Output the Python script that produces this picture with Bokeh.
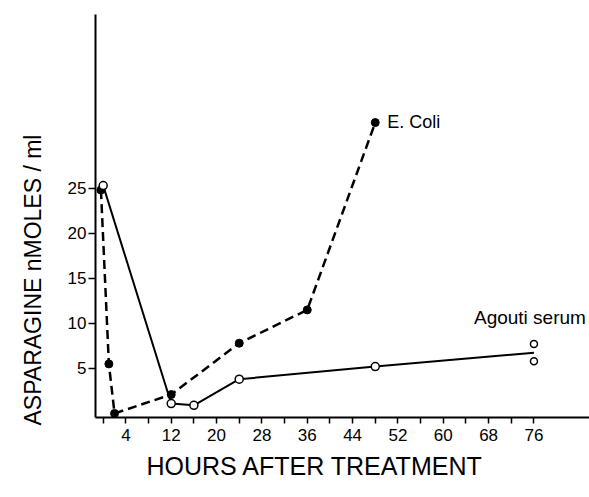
from bokeh.plotting import figure
from bokeh.models import FixedTicker, Range1d, Title
from bokeh.core.properties import value
from bokeh.embed import file_html
from bokeh.resources import INLINE

# ---- data ----
ecoli_hours = [-0.4, 1, 2, 12, 24, 36, 48]
ecoli_vals = [24.8, 5.5, 0, 2.1, 7.8, 11.5, 32.3]

agouti_hours = [0, 12, 16, 24, 48]
agouti_vals = [25.3, 1.1, 0.9, 3.8, 5.2]
agouti_76_hour = 76
agouti_76_vals = [7.7, 5.8]          # two replicate determinations at 76 h

x_tick_positions = list(range(0, 80, 4))
x_tick_labels = [4, 12, 20, 28, 36, 44, 52, 60, 68, 76]
y_tick_labels = [5, 10, 15, 20, 25]

FONT = "Liberation Sans"

p = figure(width=589, height=497, output_backend="svg", toolbar_location=None,
           x_range=Range1d(-1.36, 85.8), y_range=Range1d(-0.45, 44.3),
           min_border_left=94, min_border_right=0, min_border_top=14,
           min_border_bottom=80)
p.outline_line_color = None
p.grid.visible = False
p.background_fill_color = "white"

# axes
xa = p.xaxis[0]
xa.ticker = FixedTicker(ticks=x_tick_positions)
xa.major_label_overrides = {t: (str(t) if t in x_tick_labels else "") for t in x_tick_positions}
xa.minor_tick_line_color = None
xa.major_tick_in = 0
xa.major_tick_out = 6
xa.axis_line_width = 2
xa.major_tick_line_width = 1.5
xa.major_label_text_font = FONT
xa.major_label_text_font_size = "17px"
xa.major_label_text_color = "black"
xa.major_label_standoff = 5

ya = p.yaxis[0]
ya.ticker = FixedTicker(ticks=y_tick_labels)
ya.minor_tick_line_color = None
ya.major_tick_in = 0
ya.major_tick_out = 7
ya.axis_line_width = 2
ya.major_tick_line_width = 1.5
ya.major_label_text_font = FONT
ya.major_label_text_font_size = "17px"
ya.major_label_text_color = "black"
ya.major_label_standoff = 2

# axis titles (placed like the reference, off-centre)
p.add_layout(Title(text="HOURS AFTER TREATMENT", align="left", offset=51,
                   text_font=FONT, text_font_size="25px", text_font_style="normal",
                   text_color="black", standoff=12), "below")
p.add_layout(Title(text="ASPARAGINE   nMOLES  /  ml", align="left", offset=-8,
                   vertical_align="middle", text_color="black",
                   text_font=FONT, text_font_size="23px", text_font_style="normal",
                   standoff=36), "left")

# E. coli: dashed line with filled dots
p.line(ecoli_hours, ecoli_vals, line_color="black", line_width=2.5, line_dash="9 5")
p.scatter(ecoli_hours, ecoli_vals, size=8, marker="circle", fill_color="black", line_color="black")

# Agouti serum: solid line with open circles
agouti_line_x = agouti_hours + [agouti_76_hour]
agouti_line_y = agouti_vals + [sum(agouti_76_vals) / len(agouti_76_vals)]
p.line(agouti_line_x, agouti_line_y, line_color="black", line_width=2)
p.scatter(agouti_hours, agouti_vals, size=8, marker="circle", fill_color="white",
          line_color="black", line_width=1.5)
p.scatter([agouti_76_hour] * len(agouti_76_vals), agouti_76_vals, size=7, marker="circle",
          fill_color="white", line_color="black", line_width=1.5)

# series labels
p.text(x=[ecoli_hours[-1]], y=[ecoli_vals[-1]], text=["E. Coli"], x_offset=12, y_offset=-1,
       text_baseline="middle", text_align="left", text_font=value(FONT),
       text_font_size="18px", text_color="black")
p.text(x=[agouti_76_hour], y=[max(agouti_76_vals)], text=["Agouti serum"], x_offset=-60,
       y_offset=-27, text_baseline="middle", text_align="left", text_font=value(FONT),
       text_font_size="19px", text_color="black")

open("out.html", "w").write(file_html(p, INLINE))
